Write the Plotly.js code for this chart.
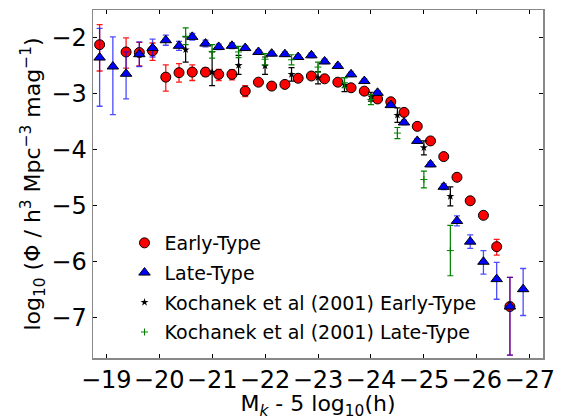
<!DOCTYPE html>
<html>
<head>
<meta charset="utf-8">
<script src="https://cdn.plot.ly/plotly-3.0.1.min.js"></script>
<style>html,body{margin:0;padding:0;background:#fff;}#chart{width:575px;height:420px;}</style>
</head>
<body>
<div id="chart"></div>
<script>
// Early-Type (red circles)
const earlyX = [-18.875, -19.375, -19.625, -19.875, -20.125, -20.375, -20.625, -20.875, -21.125, -21.375, -21.625, -21.875, -22.125, -22.375, -22.625, -22.875, -23.125, -23.375, -23.625, -23.875, -24.125, -24.375, -24.625, -24.875, -25.125, -25.375, -25.625, -25.875, -26.125, -26.375, -26.625];
const earlyY = [-2.12, -2.25, -2.26, -2.23, -2.70, -2.62, -2.61, -2.61, -2.65, -2.65, -2.95, -2.79, -2.86, -2.83, -2.72, -2.68, -2.73, -2.79, -2.89, -2.95, -3.09, -3.14, -3.33, -3.58, -3.84, -4.12, -4.49, -4.91, -5.17, -5.73, -6.80];
const earlyErrPlus = [0.36, 0.25, 0.18, 0.14, 0.22, 0.16, 0.13, 0.07, 0.09, 0.08, 0.10, 0.04, 0.04, 0.04, 0.04, 0.04, 0.04, 0.04, 0.04, 0.04, 0.04, 0.04, 0.04, 0.04, 0.04, 0.04, 0.04, 0.05, 0.05, 0.13, 0.52];
const earlyErrMinus = [0.47, 0.29, 0.24, 0.17, 0.25, 0.17, 0.15, 0.07, 0.11, 0.10, 0.10, 0.04, 0.04, 0.04, 0.04, 0.04, 0.04, 0.04, 0.04, 0.04, 0.04, 0.04, 0.04, 0.04, 0.04, 0.04, 0.04, 0.05, 0.05, 0.15, 0.87];

// Late-Type (blue triangles)
const lateX = [-18.875, -19.125, -19.375, -19.625, -19.875, -20.125, -20.375, -20.625, -20.875, -21.125, -21.375, -21.625, -21.875, -22.125, -22.375, -22.625, -22.875, -23.125, -23.375, -23.625, -23.875, -24.125, -24.375, -24.625, -24.875, -25.125, -25.375, -25.625, -25.875, -26.125, -26.375, -26.625, -26.875];
const lateY = [-2.35, -2.51, -2.64, -2.29, -2.18, -2.04, -2.14, -1.98, -2.10, -2.16, -2.14, -2.18, -2.25, -2.28, -2.29, -2.34, -2.31, -2.42, -2.50, -2.65, -2.77, -2.98, -3.20, -3.51, -3.84, -4.26, -4.66, -5.27, -5.64, -6.00, -6.31, -6.80, -6.49];
const lateErrPlus = [0.52, 0.53, 0.39, 0.22, 0.16, 0.09, 0.08, 0.06, 0.06, 0.05, 0.05, 0.04, 0.04, 0.04, 0.04, 0.04, 0.04, 0.04, 0.04, 0.04, 0.04, 0.04, 0.04, 0.04, 0.04, 0.04, 0.05, 0.09, 0.12, 0.20, 0.30, 0.52, 0.37];
const lateErrMinus = [0.87, 0.86, 0.45, 0.22, 0.16, 0.09, 0.08, 0.06, 0.06, 0.05, 0.05, 0.04, 0.04, 0.04, 0.04, 0.04, 0.04, 0.04, 0.04, 0.04, 0.04, 0.04, 0.04, 0.04, 0.04, 0.04, 0.05, 0.09, 0.12, 0.22, 0.36, 0.87, 0.47];

// Kochanek et al (2001)
const kochX = [-20.5, -21.0, -21.5, -22.0, -22.5, -23.0, -23.5, -24.0, -24.5, -25.0, -25.5];
const kochEarlyY = [-2.21, -2.61, -2.49, -2.50, -2.65, -2.71, -2.84, -3.05, -3.38, -3.96, -4.83];
const kochEarlyErrPlus = [0.23, 0.36, 0.18, 0.16, 0.12, 0.11, 0.13, 0.08, 0.13, 0.12, 0.17];
const kochEarlyErrMinus = [0.22, 0.24, 0.16, 0.15, 0.12, 0.11, 0.12, 0.08, 0.13, 0.13, 0.17];
const kochLateY = [-1.97, -2.24, -2.25, -2.38, -2.39, -2.52, -2.80, -3.10, -3.70, -4.53, -5.80];
const kochLateErr = [0.15, 0.12, 0.10, 0.10, 0.09, 0.09, 0.09, 0.09, 0.10, 0.15, 0.45];

// Axis ticks
const xTicks = [-19, -20, -21, -22, -23, -24, -25, -26, -27];
const yTicks = [-2, -3, -4, -5, -6, -7];

const FONT = 'DejaVu Sans, sans-serif';

const traces = [
  {
    x: earlyX, y: earlyY, type: 'scatter', mode: 'markers', name: 'Early-Type', legendgroup: 'a',
    marker: {symbol: 'circle', color: '#ff0000', size: 10, line: {color: '#000', width: 1}},
    error_y: {type: 'data', symmetric: false, array: earlyErrPlus, arrayminus: earlyErrMinus,
              color: 'rgba(255,0,0,0.9)', thickness: 1.3, width: 3}
  },
  {
    x: lateX, y: lateY, type: 'scatter', mode: 'markers', name: 'Late-Type', legendgroup: 'b',
    marker: {symbol: 'triangle-up', color: '#0000ff', size: 10, line: {color: '#000', width: 1}},
    error_y: {type: 'data', symmetric: false, array: lateErrPlus, arrayminus: lateErrMinus,
              color: 'rgba(0,0,255,0.7)', thickness: 1.3, width: 3}
  },
  {
    x: kochX, y: kochEarlyY, type: 'scatter', mode: 'markers', name: 'Kochanek et al (2001) Early-Type', legendgroup: 'c',
    marker: {symbol: 'star', color: '#000', size: 6},
    error_y: {type: 'data', symmetric: false, array: kochEarlyErrPlus, arrayminus: kochEarlyErrMinus,
              color: '#000', thickness: 1.2, width: 3}
  },
  {
    x: kochX, y: kochLateY, type: 'scatter', mode: 'markers', name: 'Kochanek et al (2001) Late-Type', legendgroup: 'd',
    marker: {symbol: 'cross-thin', color: '#008000', size: 5, line: {color: '#008000', width: 1}},
    error_y: {type: 'data', array: kochLateErr, color: '#008000', thickness: 1.2, width: 3}
  }
];

const layout = {
  width: 575, height: 420,
  margin: {l: 93, r: 32, t: 10, b: 62},
  paper_bgcolor: '#fff', plot_bgcolor: '#fff',
  font: {family: FONT, color: '#000'},
  showlegend: true,
  legend: {
    x: 0.07, y: 0.385, xanchor: 'left', yanchor: 'top',
    bgcolor: 'rgba(0,0,0,0)', font: {family: FONT, size: 19, color: '#000'},
    itemsizing: 'trace', traceorder: 'grouped', tracegroupgap: 2
  },
  xaxis: {
    range: [-18.75, -27.25],
    tickvals: xTicks, ticktext: xTicks.map(v => '\u2212' + Math.abs(v)),
    ticks: 'inside', ticklen: 4, tickcolor: '#000', tickwidth: 1,
    showline: true, linecolor: '#888', linewidth: 1.5, mirror: 'allticks',
    showgrid: false, zeroline: false,
    tickfont: {family: FONT, size: 24, color: '#000'},
    title: {text: 'M<sub><i>k</i></sub> - 5 log<sub>10</sub>(h)', font: {family: FONT, size: 22, color: '#000'}, standoff: 5}
  },
  yaxis: {
    range: [-7.72, -1.5],
    tickvals: yTicks, ticktext: yTicks.map(v => '\u2212' + Math.abs(v)),
    ticks: 'inside', ticklen: 4, tickcolor: '#000', tickwidth: 1,
    showline: true, linecolor: '#888', linewidth: 1.5, mirror: 'allticks',
    showgrid: false, zeroline: false,
    tickfont: {family: FONT, size: 24, color: '#000'},
    title: {text: 'log<sub>10</sub> (\u03A6 / h<sup>3</sup> Mpc<sup>\u22123</sup> mag<sup>\u22121</sup>)', font: {family: FONT, size: 22, color: '#000'}, standoff: 4}
  }
};

Plotly.newPlot('chart', traces, layout, {displayModeBar: false, staticPlot: true});
</script>
</body>
</html>
